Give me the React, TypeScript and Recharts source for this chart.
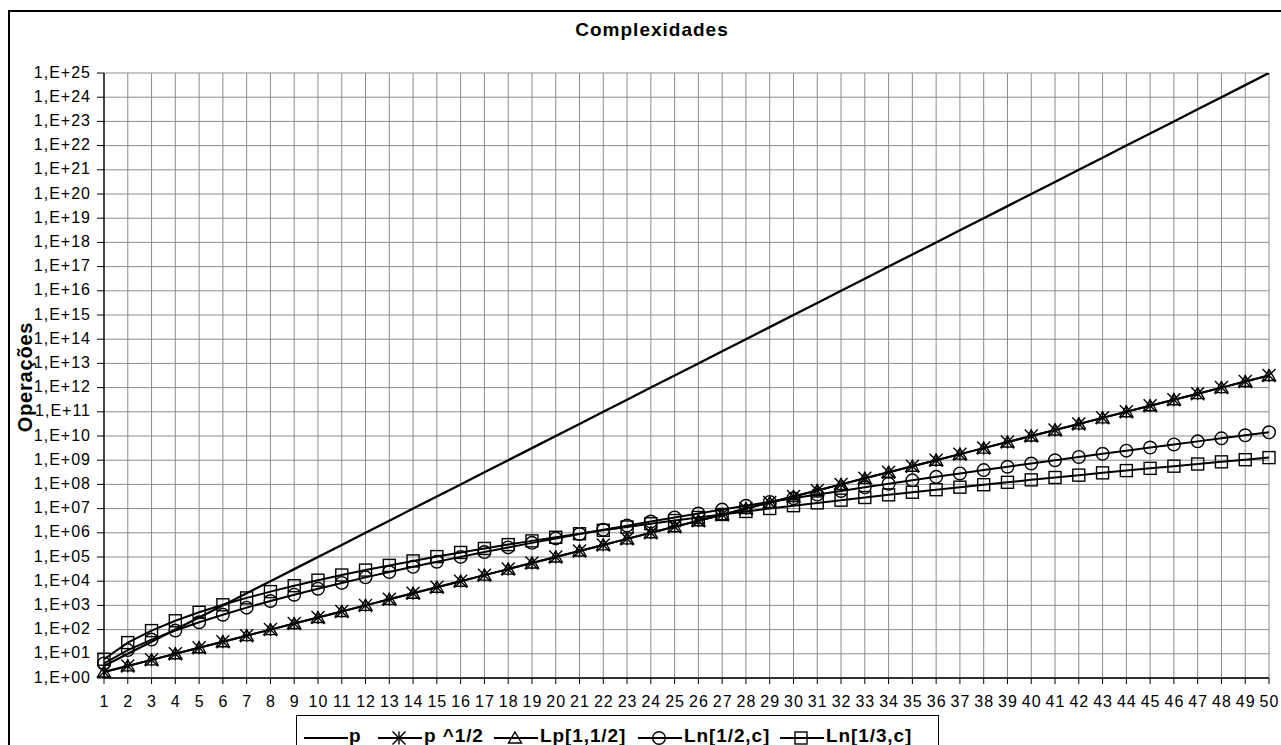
import React from "react";
import { LineChart, Line, XAxis, YAxis, CartesianGrid, Legend } from "recharts";

const xs = [
  1, 2, 3, 4, 5, 6, 7, 8, 9, 10, 11, 12, 13, 14, 15, 16, 17, 18, 19, 20, 21, 22, 23, 24, 25,
  26, 27, 28, 29, 30, 31, 32, 33, 34, 35, 36, 37, 38, 39, 40, 41, 42, 43, 44, 45, 46, 47, 48, 49, 50,
];

const pVals = [
  3.16, 1e1, 3.16e1, 1e2, 3.16e2, 1e3, 3.16e3, 1e4, 3.16e4, 1e5, 3.16e5, 1e6, 3.16e6, 1e7, 3.16e7,
  1e8, 3.16e8, 1e9, 3.16e9, 1e10, 3.16e10, 1e11, 3.16e11, 1e12, 3.16e12, 1e13, 3.16e13, 1e14,
  3.16e14, 1e15, 3.16e15, 1e16, 3.16e16, 1e17, 3.16e17, 1e18, 3.16e18, 1e19, 3.16e19, 1e20,
  3.16e20, 1e21, 3.16e21, 1e22, 3.16e22, 1e23, 3.16e23, 1e24, 3.16e24, 1e25,
];

const pSqrtVals = [
  1.78, 3.16, 5.62, 1e1, 17.8, 31.6, 56.2, 1e2, 178, 316, 562, 1e3, 1.78e3, 3.16e3, 5.62e3, 1e4,
  1.78e4, 3.16e4, 5.62e4, 1e5, 1.78e5, 3.16e5, 5.62e5, 1e6, 1.78e6, 3.16e6, 5.62e6, 1e7, 1.78e7,
  3.16e7, 5.62e7, 1e8, 1.78e8, 3.16e8, 5.62e8, 1e9, 1.78e9, 3.16e9, 5.62e9, 1e10, 1.78e10,
  3.16e10, 5.62e10, 1e11, 1.78e11, 3.16e11, 5.62e11, 1e12, 1.78e12, 3.16e12,
];

const lpVals = [
  1.78, 3.16, 5.62, 1e1, 17.8, 31.6, 56.2, 1e2, 178, 316, 562, 1e3, 1.78e3, 3.16e3, 5.62e3, 1e4,
  1.78e4, 3.16e4, 5.62e4, 1e5, 1.78e5, 3.16e5, 5.62e5, 1e6, 1.78e6, 3.16e6, 5.62e6, 1e7, 1.78e7,
  3.16e7, 5.62e7, 1e8, 1.78e8, 3.16e8, 5.62e8, 1e9, 1.78e9, 3.16e9, 5.62e9, 1e10, 1.78e10,
  3.16e10, 5.62e10, 1e11, 1.78e11, 3.16e11, 5.62e11, 1e12, 1.78e12, 3.16e12,
];

const ln12Vals = [
  4.0, 14.2, 38.6, 92, 201, 413, 807, 1520, 2770, 4910, 8500, 1.44e4, 2.4e4, 3.94e4, 6.36e4,
  1.01e5, 1.6e5, 2.49e5, 3.84e5, 5.86e5, 8.87e5, 1.33e6, 1.98e6, 2.93e6, 4.3e6, 6.28e6, 9.09e6,
  1.31e7, 1.88e7, 2.68e7, 3.81e7, 5.37e7, 7.55e7, 1.06e8, 1.47e8, 2.05e8, 2.83e8, 3.9e8, 5.35e8,
  7.31e8, 9.97e8, 1.36e9, 1.84e9, 2.48e9, 3.34e9, 4.48e9, 6.0e9, 8.01e9, 1.07e10, 1.42e10,
];

const ln13Vals = [
  5.96, 29.0, 90.9, 232, 519, 1060, 2040, 3710, 6520, 1.1e4, 1.8e4, 2.88e4, 4.49e4, 6.89e4, 1.04e5,
  1.54e5, 2.25e5, 3.25e5, 4.64e5, 6.53e5, 9.16e5, 1.27e6, 1.74e6, 2.37e6, 3.21e6, 4.31e6, 5.75e6,
  7.62e6, 1.01e7, 1.32e7, 1.72e7, 2.23e7, 2.88e7, 3.7e7, 4.75e7, 6.05e7, 7.68e7, 9.71e7, 1.22e8,
  1.54e8, 1.93e8, 2.41e8, 3.0e8, 3.72e8, 4.6e8, 5.66e8, 6.97e8, 8.56e8, 1.05e9, 1.28e9,
];

const yTicks = [
  1, 1e1, 1e2, 1e3, 1e4, 1e5, 1e6, 1e7, 1e8, 1e9, 1e10, 1e11, 1e12, 1e13, 1e14, 1e15, 1e16, 1e17,
  1e18, 1e19, 1e20, 1e21, 1e22, 1e23, 1e24, 1e25,
];

const data = xs.map((x, i) => ({
  x,
  p: pVals[i],
  pSqrt: pSqrtVals[i],
  lp: lpVals[i],
  ln12: ln12Vals[i],
  ln13: ln13Vals[i],
}));

const FONT = "Arial, 'Liberation Sans', sans-serif";

const fmtExp = (v: number) => {
  const e = Math.round(Math.log10(v));
  return "1,E+" + (e < 10 ? "0" + e : String(e));
};

type Marker = "none" | "star" | "tri" | "circle" | "square";

function MarkerShape({ kind, cx, cy }: { kind: Marker; cx: number; cy: number }) {
  const st = { stroke: "#000", strokeWidth: 1.4, fill: "none" };
  if (kind === "star") {
    const r = 6.5;
    return (
      <g {...st}>
        <line x1={cx} y1={cy - r} x2={cx} y2={cy + r} />
        <line x1={cx - r} y1={cy - r} x2={cx + r} y2={cy + r} />
        <line x1={cx - r} y1={cy + r} x2={cx + r} y2={cy - r} />
      </g>
    );
  }
  if (kind === "tri") {
    return <polygon {...st} points={`${cx},${cy - 6} ${cx + 6.5},${cy + 5} ${cx - 6.5},${cy + 5}`} />;
  }
  if (kind === "circle") return <circle {...st} cx={cx} cy={cy} r={6.3} />;
  if (kind === "square") return <rect {...st} x={cx - 6} y={cy - 6} width={12} height={12} />;
  return null;
}

const series: { key: string; name: string; marker: Marker; width: number; legendX: number }[] = [
  { key: "p", name: "p", marker: "none", width: 2.3, legendX: 7 },
  { key: "pSqrt", name: "p ^1/2", marker: "star", width: 2, legendX: 81 },
  { key: "lp", name: "Lp[1,1/2]", marker: "tri", width: 2, legendX: 197 },
  { key: "ln12", name: "Ln[1/2,c]", marker: "circle", width: 2, legendX: 341 },
  { key: "ln13", name: "Ln[1/3,c]", marker: "square", width: 2, legendX: 483 },
];

const YTick = (props: any) => {
  const { x, y, payload } = props;
  return (
    <text x={x - 1} y={y} dy={4.5} textAnchor="end" fontSize={16} letterSpacing={1} fontFamily={FONT} fill="#000">
      {fmtExp(payload.value)}
    </text>
  );
};

const XTick = (props: any) => {
  const { x, y, payload } = props;
  return (
    <text x={x + 0.5} y={y} dy={21} textAnchor="middle" fontSize={16} letterSpacing={1} fontFamily={FONT} fill="#000">
      {payload.value}
    </text>
  );
};

function LegendBox() {
  return (
    <div
      style={{
        position: "relative",
        width: 643,
        height: 40,
        border: "1px solid #000",
        boxSizing: "border-box",
        background: "#fff",
        fontFamily: FONT,
      }}
    >
      {series.map((s) => (
        <div key={s.key} style={{ position: "absolute", left: s.legendX, top: 0, height: 40 }}>
          <svg width={44} height={24} style={{ position: "absolute", left: 0, top: 10 }}>
            <line x1={0} y1={12} x2={44} y2={12} stroke="#000" strokeWidth={2} />
            <MarkerShape kind={s.marker} cx={21} cy={12} />
          </svg>
          <div
            style={{
              position: "absolute",
              left: s.marker === "none" ? 45 : 46,
              top: 10,
              fontSize: 19,
              lineHeight: "19px",
              fontWeight: "bold",
              letterSpacing: 0.9,
              whiteSpace: "nowrap",
            }}
          >
            {s.name}
          </div>
        </div>
      ))}
    </div>
  );
}

export default function App() {
  return (
    <div
      style={{
        position: "absolute",
        left: 8,
        top: 10,
        width: 1273,
        height: 735,
        borderLeft: "2px solid #000",
        borderTop: "2px solid #000",
        boxSizing: "border-box",
        overflow: "hidden",
        background: "#fff",
        fontFamily: FONT,
      }}
    >
      <div
        style={{
          position: "absolute",
          left: 642,
          top: 7.5,
          transform: "translateX(-50%)",
          fontSize: 19,
          lineHeight: "19px",
          fontWeight: "bold",
          letterSpacing: 1,
          whiteSpace: "nowrap",
        }}
      >
        Complexidades
      </div>
      <div
        style={{
          position: "absolute",
          left: 14.5,
          top: 365,
          transform: "translate(-50%, -50%) rotate(-90deg)",
          fontSize: 20,
          lineHeight: "20px",
          fontWeight: "bold",
          letterSpacing: 0.8,
          whiteSpace: "nowrap",
          zIndex: 2,
        }}
      >
        Operações
      </div>
      <LineChart
        width={1271}
        height={733}
        data={data}
        margin={{ top: 61, right: 12, bottom: 37, left: 0 }}
      >
        <CartesianGrid stroke="#8c8c8c" strokeWidth={1} />
        <XAxis
          dataKey="x"
          type="number"
          domain={[1, 50]}
          ticks={xs}
          interval={0}
          height={30}
          tickSize={6}
          tick={<XTick />}
          axisLine={{ stroke: "#000", strokeWidth: 1.3 }}
          tickLine={{ stroke: "#000" }}
        />
        <YAxis
          type="number"
          scale="log"
          domain={[1, 1e25]}
          allowDataOverflow
          ticks={yTicks}
          interval={0}
          width={94}
          tickSize={7}
          tickMargin={5}
          tick={<YTick />}
          axisLine={{ stroke: "#000", strokeWidth: 1.3 }}
          tickLine={{ stroke: "#000" }}
        />
        {series.map((s) => (
          <Line
            key={s.key}
            dataKey={s.key}
            name={s.name}
            type="linear"
            stroke="#000"
            strokeWidth={s.width}
            isAnimationActive={false}
            dot={
              s.marker === "none"
                ? false
                : (props: any) => (
                    <MarkerShape key={`${s.key}-${props.index}`} kind={s.marker} cx={props.cx} cy={props.cy} />
                  )
            }
            activeDot={false}
          />
        ))}
        <Legend
          layout="horizontal"
          verticalAlign="middle"
          align="center"
          wrapperStyle={{ left: 286, top: 703, width: 643, height: 40 }}
          content={() => <LegendBox />}
        />
      </LineChart>
    </div>
  );
}
